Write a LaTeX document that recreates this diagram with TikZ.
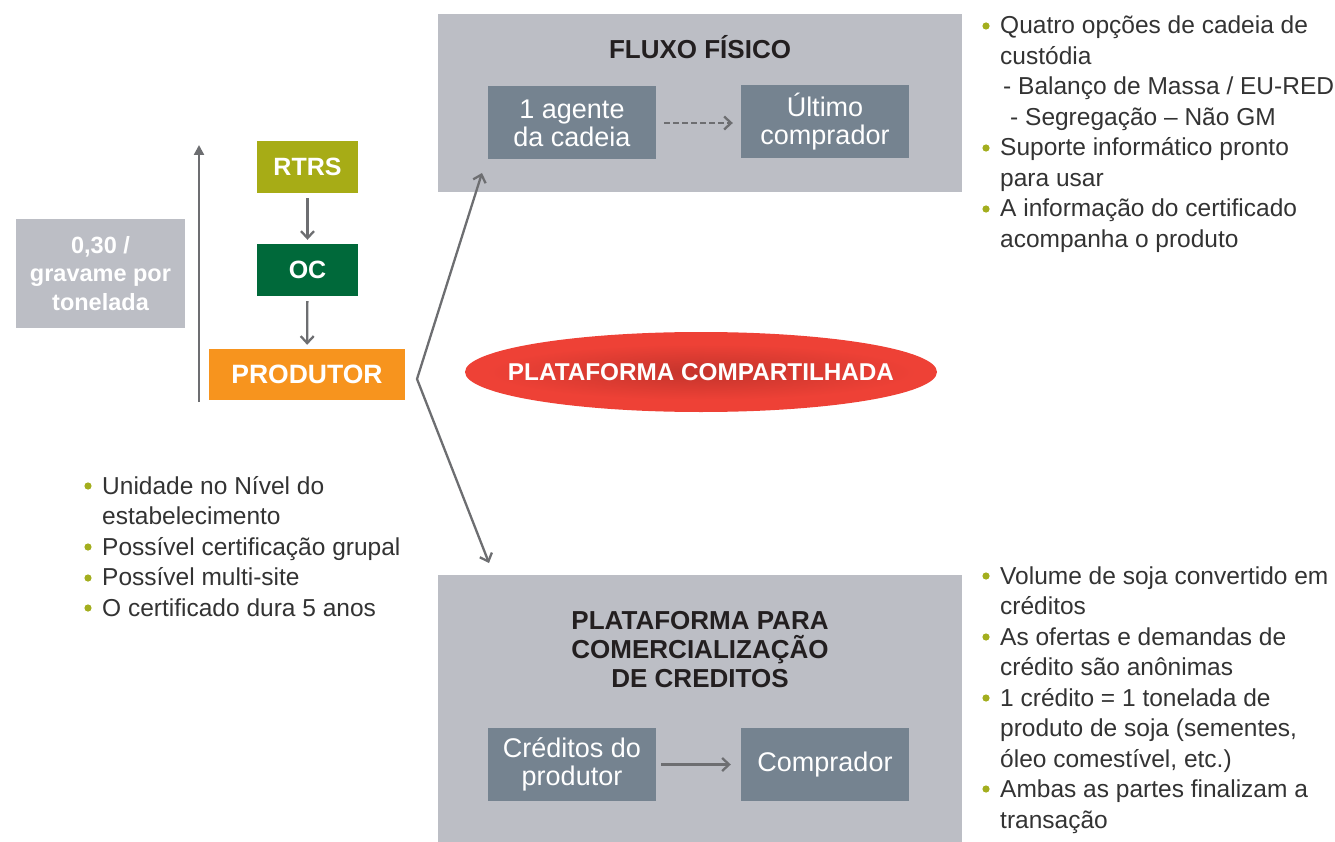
\documentclass[tikz,border=0pt]{standalone}
\usepackage{fontspec}
\setmainfont{Liberation Sans}
\usetikzlibrary{arrows.meta,shapes.geometric}
\definecolor{panelgray}{HTML}{BCBEC5}
\definecolor{innerbox}{HTML}{758390}
\definecolor{titletxt}{HTML}{231F20}
\definecolor{bodytxt}{HTML}{333333}
\definecolor{bulcol}{HTML}{A3AE1E}
\definecolor{rtrscol}{HTML}{A7AC16}
\definecolor{occol}{HTML}{00693A}
\definecolor{prodcol}{HTML}{F7941E}
\definecolor{arrcol}{HTML}{6D6E71}
\definecolor{redcol}{HTML}{EE4136}
\definecolor{reddark}{HTML}{C4342C}
\begin{document}
\begin{tikzpicture}[x=1pt,y=-1pt,
  panelbox/.style={fill=panelgray, draw=none, inner sep=0pt},
  innerb/.style={fill=innerbox, draw=none, inner sep=0pt, minimum width=168pt, minimum height=73pt,
     text=white, align=center, font=\fontsize{27}{28}\selectfont},
  colbox/.style={draw=none, inner sep=0pt, text=white, font=\bfseries\fontsize{25}{28}\selectfont},
  ttl/.style={text=titletxt, align=center, inner sep=0pt, font=\bfseries\fontsize{26}{29}\selectfont},
  bt/.style={anchor=base west, inner sep=0pt, text=bodytxt, font=\fontsize{24.5}{30}\selectfont},
  barb/.tip={Straight Barb[length=7pt,width=13pt,line width=2.3pt]},
  arr/.style={draw=arrcol, line width=2.3pt, -barb},
  bul/.style={fill=bulcol}
]
\useasboundingbox (0,0) rectangle (1335,842);

% panels
\node[panelbox, minimum width=524pt, minimum height=178pt] (fluxo) at (700,103) {};
\node[panelbox, minimum width=524pt, minimum height=267pt] (plat) at (700,708.5) {};

% titles
\node[ttl] (fluxotitle) at (700,47) {FLUXO FÍSICO};
\node[ttl] (plattitle) at (700,650) {PLATAFORMA PARA\\COMERCIALIZAÇÃO\\DE CREDITOS};

% inner boxes
\node[innerb] (agente) at (572,123) {1 agente\\da cadeia};
\node[innerb] (ultimo) at (825,121.5) {Último\\comprador};
\node[innerb] (creditos) at (572,764.5) {Créditos do\\produtor};
\node[innerb] (comprador) at (825,764.5) {Comprador};

\draw[arr, dash pattern=on 6pt off 3pt] ([xshift=8pt]agente.east) -- ([xshift=-8pt]agente.east -| ultimo.west);
\draw[arr] ([xshift=5pt]creditos.east) -- ([xshift=-10pt]comprador.west);

% left column
\node[panelbox, minimum width=169pt, minimum height=109pt, text=white, align=center,
      font=\bfseries\fontsize{23.5}{28.5}\selectfont] (grav) at (100.5,273.5) {0,30 /\\gravame por\\tonelada};
\node[colbox, fill=rtrscol, minimum width=101pt, minimum height=52pt] (rtrs) at (307.5,167) {RTRS};
\node[colbox, fill=occol, minimum width=101pt, minimum height=52pt] (oc) at (307.5,270) {OC};
\node[colbox, fill=prodcol, minimum width=196pt, minimum height=51pt, font=\bfseries\fontsize{26.5}{28}\selectfont] (prod) at (307,374.5) {PRODUTOR};

\draw[arr, shorten <=5pt, shorten >=4pt] (rtrs) -- (oc);
\draw[arr, shorten <=5pt, shorten >=4pt] (oc) -- (prod);

\coordinate (vb) at (199,402);
\coordinate (vt) at (199,145);
\draw[draw=arrcol, line width=2.3pt, -{Triangle[length=10pt,width=10pt]}] (vb) -- (vt);

% branching arrows
\coordinate (vx) at (417,379);
\coordinate (tup) at (482,173);
\coordinate (tdn) at (489,563);
\draw[draw=arrcol, line width=2.3pt, line join=miter, barb-barb] (tup) -- (vx) -- (tdn);

% ellipse
\node[ellipse, fill=redcol, draw=none, minimum width=472pt, minimum height=80pt, inner sep=0pt] (shared) at (701,372) {};
\shade[inner color=reddark, outer color=redcol] (shared.center) ellipse [x radius=215pt, y radius=28pt];
\node[text=white, inner sep=0pt, font=\bfseries\fontsize{24.3}{28}\selectfont] (sharedtxt) at (shared.center) {PLATAFORMA COMPARTILHADA};

% top right bullets
\foreach \yy in {26,148,209} \fill[bul] (986,\yy) circle (3.6pt);
\node[bt] (a1) at (1000,34) {Quatro opções de cadeia de};
\node[bt] (a2) at (1000,64.5) {custódia};
\node[bt] (a3) at (1003,95) {- Balanço de Massa / EU-RED};
\node[bt] (a4) at (1010,125.5) {- Segregação – Não GM};
\node[bt] (a5) at (1000,156) {Suporte informático pronto};
\node[bt] (a6) at (1000,186.5) {para usar};
\node[bt] (a7) at (1000,217) {A informação do certificado};
\node[bt] (a8) at (1000,247.5) {acompanha o produto};

% bottom left bullets
\foreach \yy in {486,547,578,608} \fill[bul] (88,\yy) circle (3.6pt);
\node[bt] (b1) at (102,494) {Unidade no Nível do};
\node[bt] (b2) at (102,524.5) {estabelecimento};
\node[bt] (b3) at (102,555) {Possível certificação grupal};
\node[bt] (b4) at (102,585.5) {Possível multi-site};
\node[bt] (b5) at (102,616) {O certificado dura 5 anos};

% bottom right bullets
\foreach \yy in {576,637,698,789} \fill[bul] (986,\yy) circle (3.6pt);
\node[bt] (c1) at (1000,584) {Volume de soja convertido em};
\node[bt] (c2) at (1000,614.5) {créditos};
\node[bt] (c3) at (1000,645) {As ofertas e demandas de};
\node[bt] (c4) at (1000,675.5) {crédito são anônimas};
\node[bt] (c5) at (1000,706) {1 crédito = 1 tonelada de};
\node[bt] (c6) at (1000,736.5) {produto de soja (sementes,};
\node[bt] (c7) at (1000,767) {óleo comestível, etc.)};
\node[bt] (c8) at (1000,797.5) {Ambas as partes finalizam a};
\node[bt] (c9) at (1000,828) {transação};
\end{tikzpicture}
\end{document}
